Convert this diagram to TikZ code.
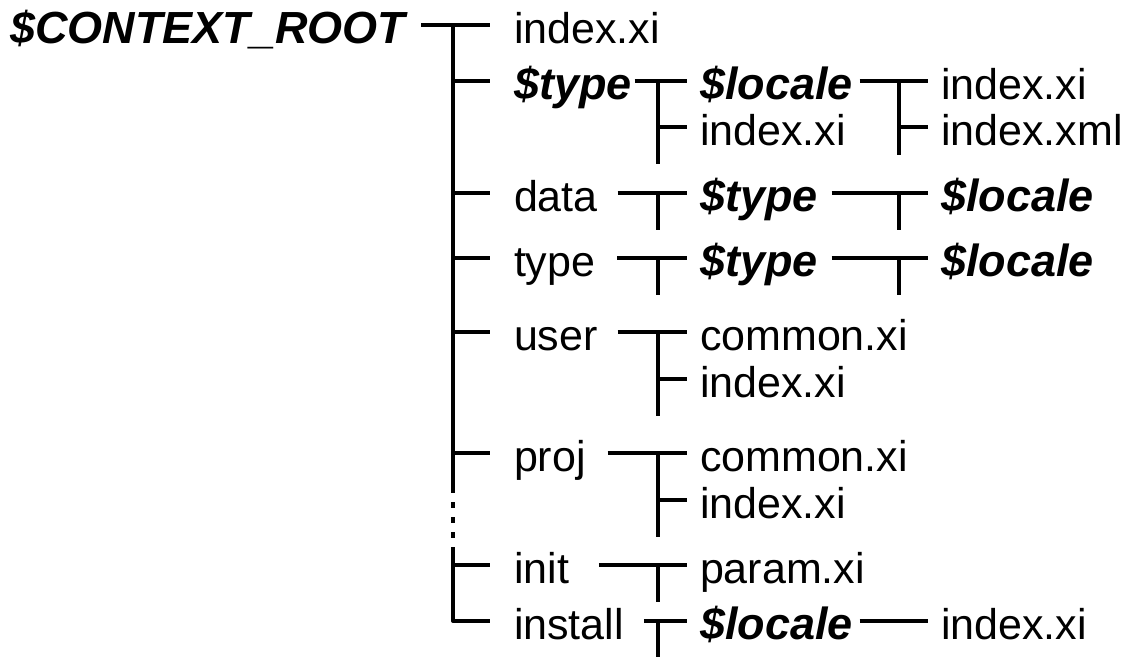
\documentclass[tikz,border=0pt]{standalone}
\usepackage{fontspec}
\setmainfont{Liberation Sans}
\usetikzlibrary{calc}

\begin{document}
\begin{tikzpicture}[x=1pt, y=-1pt, line width=4pt, line join=round]
		\tikzstyle{every node}=[inner sep=0pt, anchor=west, text height=36pt,
		text depth=0pt, font=\fontsize{43pt}{50pt}\selectfont]
		\tikzstyle{var}=[font=\fontsize{45pt}{50pt}\selectfont\bfseries\itshape]
		
		\useasboundingbox (0,0) rectangle (1134,657);
		
		\node [var] (root) at (8,25) {\$CONTEXT\_ROOT};
		
		\node (idx) at (512,25) {index.xi};
		\node [var] (type) at ($(idx.west)+(0,56)$) {\$type};
		\node (data) at (512,193) {data}; \node (typ) at (512,258) {type};
		\node (user) at (512,332) {user}; \node (proj) at (512,453) {proj};
		\node (init) at (512,565) {init}; \node (inst) at (512,621) {install};
		
		\node [var] (loc) at (698,81) {\$locale};
		\node (typeidx) at ($(loc.west)+(0,46)$) {index.xi};
		\node [var] (dtype) at (698,193) {\$type};
		\node [var] (ttype) at (698,258) {\$type};
		\node (ucom) at (698,332) {common.xi};
		\node (uidx) at ($(ucom.west)+(0,47)$) {index.xi};
		\node (pcom) at (698,453) {common.xi};
		\node (pidx) at ($(pcom.west)+(0,47)$) {index.xi};
		\node (param) at (698,565) {param.xi};
		\node [var] (iloc) at (698,621) {\$locale};
		
		\node (locidx) at (939,81) {index.xi};
		\node (locxml) at ($(locidx.west)+(0,46)$) {index.xml};
		\node [var] (dloc) at (939,193) {\$locale};
		\node [var] (tloc) at (939,258) {\$locale};
		\node (ilocidx) at (939,621) {index.xi};
		
		% trunk
		\coordinate (trunk) at ($(idx.west)+(-59,0)$);
		\coordinate (gap) at ($(trunk |- proj.west)+(0,40)$);
		\coordinate (gapend) at ($(trunk |- init.west)+(0,-18)$);
		\draw ([xshift=14pt]root.east) -- ([xshift=-22pt]idx.west);
		\draw (trunk) -- (gap);
		\draw [dash pattern=on 6pt off 9pt, dash phase=6pt] (gap) -- (gapend);
		\draw (gapend) -- (trunk |- inst.west) -- ([xshift=-22pt]inst.west);
		\foreach \n in {type,data,typ,user,proj,init}
		\draw (trunk |- \n.west) -- ([xshift=-22pt]\n.west);
		
		% tees
		\foreach \p/\g/\a/\b/\t in {type/1/loc/typeidx/37, data/18/dtype/dtype/37,
			typ/20/ttype/ttype/37, user/18/ucom/uidx/37, proj/20/pcom/pidx/37,
			init/28/param/param/37, inst/18/iloc/iloc/36, loc/5/locidx/locxml/28,
			dtype/12/dloc/dloc/37, ttype/12/tloc/tloc/37}{
			\draw ([xshift=\g pt]\p.east) -- ([xshift=-11pt]\a.west);
			\draw ($(\a.west)+(-40,0)$) -- ($(\b.west)+(-40,\t)$);
			\draw ($(\b.west)+(-40,0)$) -- ([xshift=-11pt]\b.west);
		}
		\draw ([xshift=5pt]iloc.east) -- ([xshift=-11pt]ilocidx.west);
	\end{tikzpicture}
\end{document}
